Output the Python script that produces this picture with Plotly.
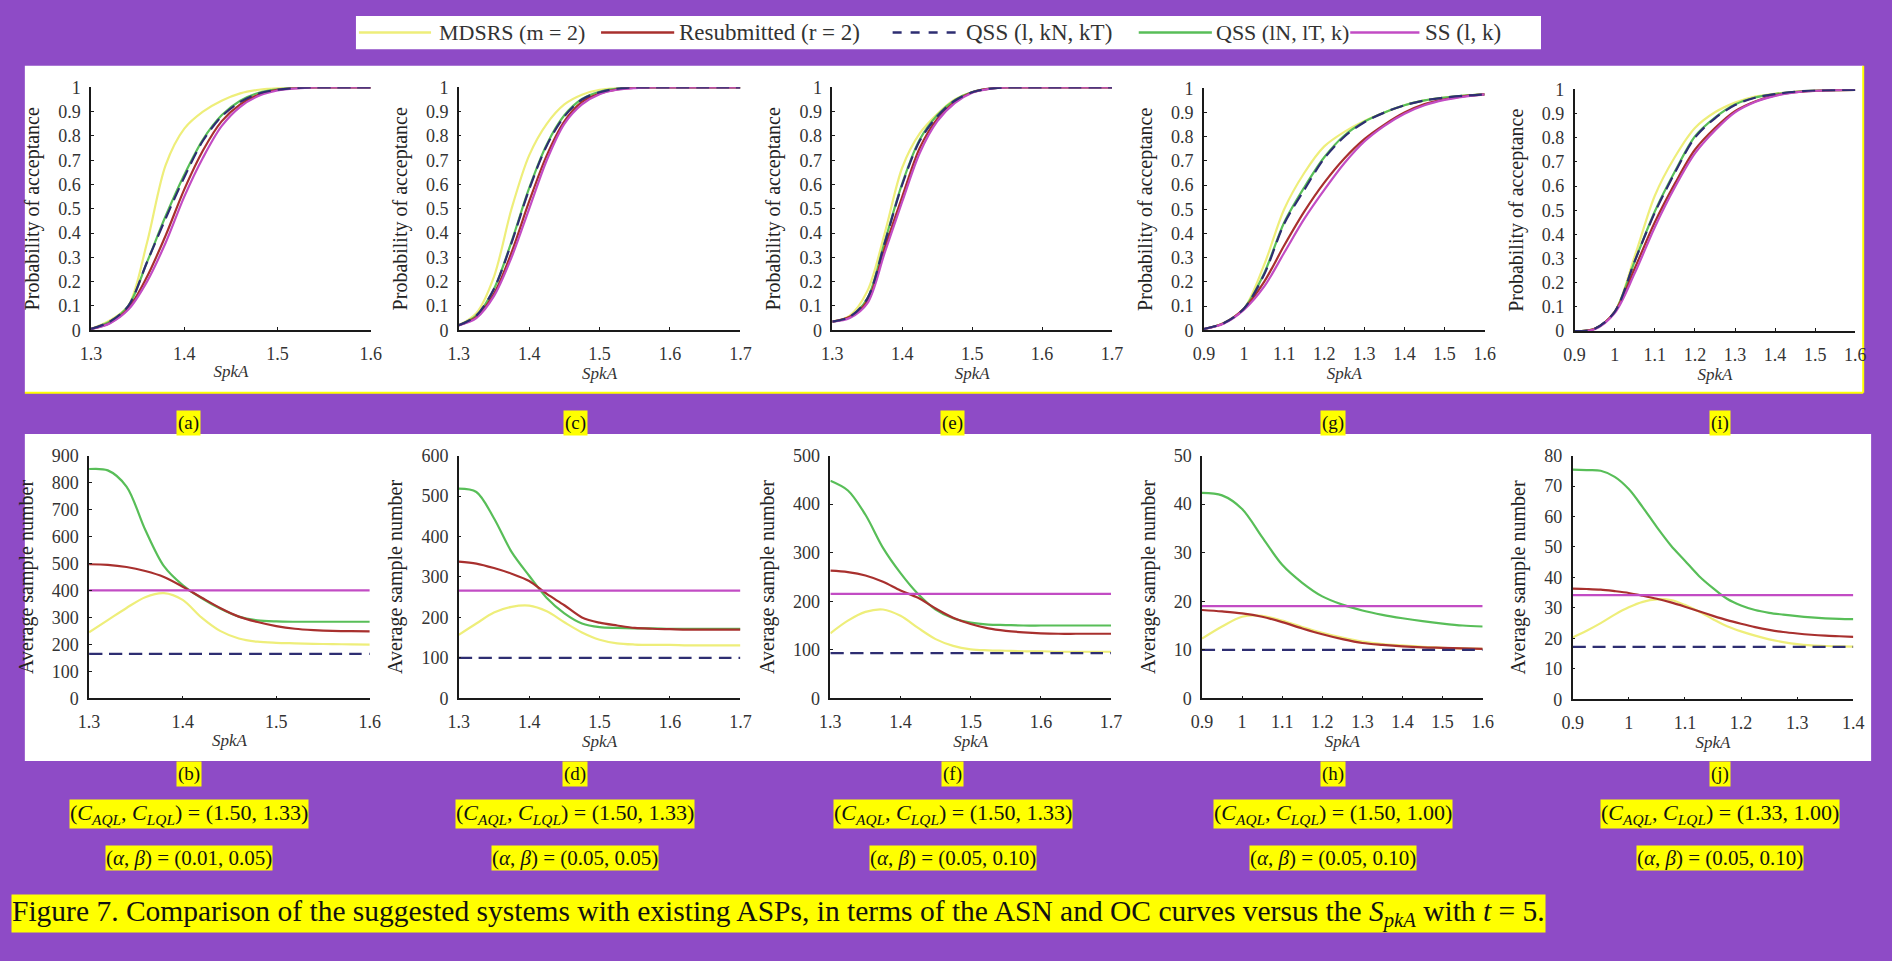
import plotly.graph_objects as go

W, H = 1892, 961

# ---------------- data ----------------
series_names = ["MDSRS (m = 2)", "Resubmitted (r = 2)", "QSS (l, kN, kT)", "QSS (lN, lT, k)", "SS (l, k)"]

# (a) OC
oc_a_x = [1.30, 1.32, 1.34, 1.36, 1.38, 1.40, 1.42, 1.44, 1.46, 1.48, 1.50, 1.52, 1.54, 1.56, 1.58, 1.60]
oc_a_mdsrs = [0.005, 0.04, 0.10, 0.36, 0.68, 0.83, 0.90, 0.945, 0.975, 0.99, 0.997, 1, 1, 1, 1, 1]
oc_a_resub = [0.005, 0.03, 0.09, 0.22, 0.39, 0.58, 0.74, 0.86, 0.93, 0.97, 0.99, 0.997, 1, 1, 1, 1]
oc_a_qkn = [0.005, 0.035, 0.10, 0.28, 0.46, 0.63, 0.78, 0.88, 0.94, 0.975, 0.99, 0.997, 1, 1, 1, 1]
oc_a_qln = [0.005, 0.035, 0.10, 0.28, 0.47, 0.64, 0.785, 0.885, 0.945, 0.978, 0.992, 0.998, 1, 1, 1, 1]
oc_a_ss = [0.005, 0.028, 0.085, 0.20, 0.36, 0.55, 0.71, 0.84, 0.92, 0.965, 0.987, 0.996, 1, 1, 1, 1]

# (c) OC
oc_c_x = [1.300, 1.325, 1.350, 1.375, 1.400, 1.425, 1.450, 1.475, 1.500, 1.525, 1.550, 1.575, 1.600, 1.625, 1.650, 1.675, 1.700]
oc_c_mdsrs = [0.02, 0.07, 0.22, 0.50, 0.72, 0.85, 0.93, 0.97, 0.99, 0.997, 1, 1, 1, 1, 1, 1, 1]
oc_c_resub = [0.02, 0.055, 0.15, 0.32, 0.53, 0.72, 0.86, 0.94, 0.975, 0.992, 0.998, 1, 1, 1, 1, 1, 1]
oc_c_qkn = [0.02, 0.06, 0.17, 0.36, 0.58, 0.76, 0.88, 0.95, 0.98, 0.995, 1, 1, 1, 1, 1, 1, 1]
oc_c_qln = [0.02, 0.06, 0.17, 0.365, 0.585, 0.765, 0.885, 0.952, 0.982, 0.995, 1, 1, 1, 1, 1, 1, 1]
oc_c_ss = [0.02, 0.05, 0.14, 0.30, 0.50, 0.70, 0.85, 0.93, 0.972, 0.99, 0.997, 1, 1, 1, 1, 1, 1]

# (e) OC
oc_e_x = [1.300, 1.325, 1.350, 1.375, 1.400, 1.425, 1.450, 1.475, 1.500, 1.525, 1.550, 1.575, 1.600, 1.625, 1.650, 1.675, 1.700]
oc_e_mdsrs = [0.035, 0.06, 0.16, 0.40, 0.67, 0.81, 0.89, 0.95, 0.98, 0.995, 1, 1, 1, 1, 1, 1, 1]
oc_e_resub = [0.035, 0.055, 0.12, 0.34, 0.55, 0.75, 0.87, 0.94, 0.98, 0.995, 1, 1, 1, 1, 1, 1, 1]
oc_e_qkn = [0.035, 0.055, 0.13, 0.36, 0.60, 0.78, 0.88, 0.945, 0.98, 0.995, 1, 1, 1, 1, 1, 1, 1]
oc_e_qln = [0.035, 0.055, 0.13, 0.365, 0.605, 0.785, 0.885, 0.947, 0.981, 0.995, 1, 1, 1, 1, 1, 1, 1]
oc_e_ss = [0.035, 0.05, 0.11, 0.32, 0.53, 0.73, 0.86, 0.935, 0.978, 0.994, 1, 1, 1, 1, 1, 1, 1]

# (g) OC
oc_g_x = [0.90, 0.95, 1.00, 1.05, 1.10, 1.15, 1.20, 1.25, 1.30, 1.35, 1.40, 1.45, 1.50, 1.55, 1.60]
oc_g_mdsrs = [0.005, 0.03, 0.09, 0.27, 0.50, 0.65, 0.76, 0.82, 0.865, 0.90, 0.93, 0.95, 0.962, 0.97, 0.975]
oc_g_resub = [0.005, 0.03, 0.09, 0.20, 0.35, 0.49, 0.61, 0.71, 0.79, 0.85, 0.90, 0.935, 0.955, 0.968, 0.975]
oc_g_qkn = [0.005, 0.03, 0.09, 0.23, 0.44, 0.58, 0.71, 0.80, 0.86, 0.90, 0.93, 0.95, 0.962, 0.97, 0.975]
oc_g_qln = [0.005, 0.03, 0.09, 0.235, 0.445, 0.59, 0.715, 0.805, 0.862, 0.90, 0.93, 0.95, 0.962, 0.97, 0.975]
oc_g_ss = [0.005, 0.028, 0.085, 0.18, 0.32, 0.46, 0.58, 0.69, 0.78, 0.845, 0.895, 0.93, 0.952, 0.966, 0.975]

# (i) OC
oc_i_x = [0.90, 0.95, 1.00, 1.05, 1.10, 1.15, 1.20, 1.25, 1.30, 1.35, 1.40, 1.45, 1.50, 1.55, 1.60]
oc_i_mdsrs = [0.0, 0.01, 0.08, 0.31, 0.56, 0.72, 0.84, 0.905, 0.945, 0.97, 0.982, 0.99, 0.995, 0.997, 0.998]
oc_i_resub = [0.0, 0.01, 0.08, 0.26, 0.45, 0.61, 0.75, 0.84, 0.91, 0.95, 0.975, 0.988, 0.994, 0.997, 0.998]
oc_i_qkn = [0.0, 0.01, 0.08, 0.29, 0.49, 0.655, 0.80, 0.88, 0.935, 0.965, 0.98, 0.99, 0.995, 0.997, 0.998]
oc_i_qln = [0.0, 0.01, 0.08, 0.29, 0.495, 0.66, 0.805, 0.883, 0.937, 0.966, 0.98, 0.99, 0.995, 0.997, 0.998]
oc_i_ss = [0.0, 0.008, 0.075, 0.24, 0.43, 0.595, 0.735, 0.83, 0.905, 0.948, 0.973, 0.987, 0.994, 0.997, 0.998]

# (b) ASN
asn_b_x = [1.30, 1.32, 1.34, 1.36, 1.38, 1.40, 1.42, 1.44, 1.46, 1.48, 1.50, 1.52, 1.54, 1.56, 1.58, 1.60]
asn_b_mdsrs = [245, 290, 335, 375, 390, 365, 300, 250, 222, 210, 206, 204, 202, 201, 200, 199]
asn_b_resub = [497, 495, 487, 472, 450, 414, 374, 335, 303, 283, 268, 258, 253, 250, 249, 248]
asn_b_qkn = [165, 165, 165, 165, 165, 165, 165, 165, 165, 165, 165, 165, 165, 165, 165, 165]
asn_b_qln = [850, 845, 785, 625, 490, 420, 372, 333, 303, 289, 285, 284, 284, 284, 284, 284]
asn_b_ss = [400, 400, 400, 400, 400, 400, 400, 400, 400, 400, 400, 400, 400, 400, 400, 400]

# (d) ASN
asn_d_x = [1.300, 1.325, 1.350, 1.375, 1.400, 1.425, 1.450, 1.475, 1.500, 1.525, 1.550, 1.575, 1.600, 1.625, 1.650, 1.675, 1.700]
asn_d_mdsrs = [157, 185, 212, 226, 229, 215, 188, 163, 145, 136, 133, 132, 132, 131, 131, 131, 131]
asn_d_resub = [338, 333, 322, 308, 290, 258, 230, 200, 187, 180, 174, 172, 171, 170, 170, 170, 170]
asn_d_qkn = [100, 100, 100, 100, 100, 100, 100, 100, 100, 100, 100, 100, 100, 100, 100, 100, 100]
asn_d_qln = [518, 510, 445, 362, 303, 248, 210, 185, 176, 174, 173, 173, 172, 172, 172, 172, 172]
asn_d_ss = [266, 266, 266, 266, 266, 266, 266, 266, 266, 266, 266, 266, 266, 266, 266, 266, 266]

# (f) ASN
asn_f_x = [1.300, 1.325, 1.350, 1.375, 1.400, 1.425, 1.450, 1.475, 1.500, 1.525, 1.550, 1.575, 1.600, 1.625, 1.650, 1.675, 1.700]
asn_f_mdsrs = [134, 160, 178, 183, 170, 145, 122, 108, 101, 99, 98, 97, 97, 96, 96, 96, 96]
asn_f_resub = [263, 260, 253, 240, 222, 207, 185, 166, 153, 144, 139, 136, 134, 133, 133, 133, 133]
asn_f_qkn = [93, 93, 93, 93, 93, 93, 93, 93, 93, 93, 93, 93, 93, 93, 93, 93, 93]
asn_f_qln = [448, 428, 378, 310, 258, 215, 183, 165, 156, 152, 151, 150, 150, 150, 150, 150, 150]
asn_f_ss = [215, 215, 215, 215, 215, 215, 215, 215, 215, 215, 215, 215, 215, 215, 215, 215, 215]

# (h) ASN
asn_h_x = [0.90, 0.95, 1.00, 1.05, 1.10, 1.15, 1.20, 1.25, 1.30, 1.35, 1.40, 1.45, 1.50, 1.55, 1.60]
asn_h_mdsrs = [12.3, 14.8, 16.8, 17.0, 16.0, 14.7, 13.5, 12.5, 11.7, 11.2, 10.9, 10.6, 10.4, 10.3, 10.2]
asn_h_resub = [18.2, 17.9, 17.5, 16.8, 15.7, 14.4, 13.2, 12.2, 11.4, 11.0, 10.7, 10.5, 10.4, 10.3, 10.2]
asn_h_qkn = [10, 10, 10, 10, 10, 10, 10, 10, 10, 10, 10, 10, 10, 10, 10]
asn_h_qln = [42.3, 41.8, 39.0, 33.2, 27.5, 23.8, 21.0, 19.3, 18.1, 17.2, 16.5, 15.9, 15.4, 15.0, 14.8]
asn_h_ss = [19, 19, 19, 19, 19, 19, 19, 19, 19, 19, 19, 19, 19, 19, 19]

# (j) ASN
asn_j_x = [0.900, 0.925, 0.950, 0.975, 1.000, 1.025, 1.050, 1.075, 1.100, 1.125, 1.150,
           1.175, 1.200, 1.225, 1.250, 1.275, 1.300, 1.325, 1.350, 1.375, 1.400]
asn_j_mdsrs = [20.3, 22.5, 25.0, 27.8, 30.2, 32.0, 32.8, 32.6, 31.0, 28.8, 26.3,
               24.0, 22.3, 20.9, 19.7, 18.8, 18.1, 17.7, 17.5, 17.4, 17.3]
asn_j_resub = [36.3, 36.2, 36.0, 35.5, 34.9, 34.0, 33.0, 31.8, 30.4, 28.9, 27.4,
               26.0, 24.8, 23.7, 22.8, 22.1, 21.6, 21.2, 20.9, 20.7, 20.5]
asn_j_qkn = [17.2] * 21
asn_j_qln = [75.4, 75.2, 75.0, 73.0, 69.0, 63.0, 56.5, 50.5, 45.5, 40.5, 36.5,
             33.0, 30.8, 29.3, 28.4, 27.8, 27.3, 26.9, 26.6, 26.4, 26.3]
asn_j_ss = [34.2] * 21

panel_labels = ["(a)", "(c)", "(e)", "(g)", "(i)", "(b)", "(d)", "(f)", "(h)", "(j)"]
caption_cql = ["(1.50, 1.33)", "(1.50, 1.33)", "(1.50, 1.33)", "(1.50, 1.00)", "(1.33, 1.00)"]
caption_ab = ["(0.01, 0.05)", "(0.05, 0.05)", "(0.05, 0.10)", "(0.05, 0.10)", "(0.05, 0.10)"]

# ---------------- styling ----------------
BG = "#8E4BC6"
YEL = "#FFFF00"
SERIF = "Liberation Serif"
colors = ["#EEEE7A", "#A8302E", "#2E2E72", "#58BE58", "#C24CC4"]
dashes = ["solid", "solid", "13px,7px", "solid", "solid"]
order = [0, 3, 1, 4, 2]  # drawing order

panels = [
    dict(x=oc_a_x, ys=[oc_a_mdsrs, oc_a_resub, oc_a_qkn, oc_a_qln, oc_a_ss], xr=[1.3, 1.6], yr=[0, 1], yd=0.1, box=(81, 364, 79, 327), yt="Probability of acceptance"),
    dict(x=oc_c_x, ys=[oc_c_mdsrs, oc_c_resub, oc_c_qkn, oc_c_qln, oc_c_ss], xr=[1.3, 1.7], yr=[0, 1], yd=0.1, box=(453, 738, 79, 327), yt="Probability of acceptance"),
    dict(x=oc_e_x, ys=[oc_e_mdsrs, oc_e_resub, oc_e_qkn, oc_e_qln, oc_e_ss], xr=[1.3, 1.7], yr=[0, 1], yd=0.1, box=(831, 1114, 79, 327), yt="Probability of acceptance"),
    dict(x=oc_g_x, ys=[oc_g_mdsrs, oc_g_resub, oc_g_qkn, oc_g_qln, oc_g_ss], xr=[0.9, 1.6], yr=[0, 1], yd=0.1, box=(1207, 1491, 80, 327), yt="Probability of acceptance"),
    dict(x=oc_i_x, ys=[oc_i_mdsrs, oc_i_resub, oc_i_qkn, oc_i_qln, oc_i_ss], xr=[0.9, 1.6], yr=[0, 1], yd=0.1, box=(1582, 1866, 81, 328), yt="Probability of acceptance"),
    dict(x=asn_b_x, ys=[asn_b_mdsrs, asn_b_resub, asn_b_qkn, asn_b_qln, asn_b_ss], xr=[1.3, 1.6], yr=[0, 900], yd=100, box=(79, 363, 455, 703), yt="Average sample number"),
    dict(x=asn_d_x, ys=[asn_d_mdsrs, asn_d_resub, asn_d_qkn, asn_d_qln, asn_d_ss], xr=[1.3, 1.7], yr=[0, 600], yd=100, box=(453, 738, 455, 703), yt="Average sample number"),
    dict(x=asn_f_x, ys=[asn_f_mdsrs, asn_f_resub, asn_f_qkn, asn_f_qln, asn_f_ss], xr=[1.3, 1.7], yr=[0, 500], yd=100, box=(829, 1113, 455, 703), yt="Average sample number"),
    dict(x=asn_h_x, ys=[asn_h_mdsrs, asn_h_resub, asn_h_qkn, asn_h_qln, asn_h_ss], xr=[0.9, 1.6], yr=[0, 50], yd=10, box=(1205, 1489, 455, 703), yt="Average sample number"),
    dict(x=asn_j_x, ys=[asn_j_mdsrs, asn_j_resub, asn_j_qkn, asn_j_qln, asn_j_ss], xr=[0.9, 1.4], yr=[0, 80], yd=10, box=(1580, 1864, 455, 704), yt="Average sample number"),
]

def px_x(v):
    return v / W

def px_y(v):
    return 1 - v / H

fig = go.Figure()
shapes = []
annotations = []

# white strips behind panel rows
shapes.append(dict(type="rect", xref="paper", yref="paper", x0=px_x(14), x1=px_x(1874), y0=px_y(390), y1=px_y(57),
                   fillcolor="white", line=dict(width=0), layer="below"))
shapes.append(dict(type="line", xref="paper", yref="paper", x0=px_x(14), x1=px_x(1874), y0=px_y(391), y1=px_y(391),
                   line=dict(color=YEL, width=2), layer="below"))
shapes.append(dict(type="line", xref="paper", yref="paper", x0=px_x(1874), x1=px_x(1874), y0=px_y(391), y1=px_y(57),
                   line=dict(color=YEL, width=2), layer="below"))
shapes.append(dict(type="rect", xref="paper", yref="paper", x0=px_x(14), x1=px_x(1882), y0=px_y(767), y1=px_y(433),
                   fillcolor="white", line=dict(width=0), layer="below"))

for i, p in enumerate(panels, start=1):
    x0, x1, y0, y1 = p["box"]
    xa = "x" if i == 1 else f"x{i}"
    ya = "y" if i == 1 else f"y{i}"
    for k in order:
        fig.add_trace(go.Scatter(
            x=p["x"], y=p["ys"][k], mode="lines", name=series_names[k], showlegend=False,
            line=dict(color=colors[k], width=2.2, dash=dashes[k], shape="spline", smoothing=0.9),
            xaxis=xa, yaxis=ya, hoverinfo="skip"))
    axis_common = dict(showline=True, linecolor="#1a1a1a", linewidth=1.5, showgrid=False, zeroline=False,
                       ticks="inside", ticklen=3, tickcolor="#1a1a1a",
                       tickfont=dict(family=SERIF, size=18, color="#333333"))
    fig.layout[f"xaxis{i}" if i > 1 else "xaxis"] = dict(
        domain=[px_x(x0), px_x(x1)], range=p["xr"], dtick=0.1, tick0=0.9, anchor=ya,
        ticklabelstandoff=6,
        title=dict(text="<i>SpkA</i>", font=dict(family=SERIF, size=17, color="#333333"), standoff=3),
        **axis_common)
    fig.layout[f"yaxis{i}" if i > 1 else "yaxis"] = dict(
        domain=[px_y(y1), px_y(y0)], range=p["yr"], dtick=p["yd"], anchor=xa,
        ticklabelstandoff=5,
        title=dict(text=p["yt"], font=dict(family=SERIF, size=20, color="#222222"), standoff=13),
        **axis_common)

# legend (drawn as a strip of line samples and labels)
shapes.append(dict(type="rect", xref="paper", yref="paper", x0=px_x(349), x1=px_x(1548), y0=px_y(40), y1=px_y(6),
                   fillcolor="white", line=dict(width=0)))
leg_line = [(352, 425), (597, 671), (892, 963), (1141, 1215), (1355, 1425)]
leg_text = [431, 674, 964, 1217, 1429]
leg_size = [22, 23, 23, 22, 23]
for k in range(5):
    a, b = leg_line[k]
    shapes.append(dict(type="line", xref="paper", yref="paper", x0=px_x(a), x1=px_x(b), y0=px_y(23), y1=px_y(23),
                       line=dict(color=colors[k], width=2.5, dash="dash" if k == 2 else "solid")))
    annotations.append(dict(xref="paper", yref="paper", x=px_x(leg_text[k]), y=px_y(23), xanchor="left", yanchor="middle",
                            text=series_names[k], showarrow=False,
                            font=dict(family=SERIF, size=leg_size[k], color="#333333")))

# panel letters, parameter captions
col_centers = [180, 571, 953, 1338, 1729]
for j, lab in enumerate(panel_labels):
    cx = col_centers[j % 5]
    cy = 422 if j < 5 else 780
    annotations.append(dict(xref="paper", yref="paper", x=px_x(cx), y=px_y(cy), xanchor="center", yanchor="middle",
                            text=lab, showarrow=False, bgcolor=YEL, borderpad=1,
                            font=dict(family=SERIF, size=19, color="#111111")))
for j in range(5):
    cx = col_centers[j]
    annotations.append(dict(xref="paper", yref="paper", x=px_x(cx), y=px_y(821), xanchor="center", yanchor="middle",
                            text=f"(<i>C</i><sub><i>AQL</i></sub>, <i>C</i><sub><i>LQL</i></sub>) = {caption_cql[j]}",
                            showarrow=False, bgcolor=YEL, borderpad=0,
                            font=dict(family=SERIF, size=22, color="#111111")))
    annotations.append(dict(xref="paper", yref="paper", x=px_x(cx), y=px_y(866), xanchor="center", yanchor="middle",
                            text=f"(<i>α</i>, <i>β</i>) = {caption_ab[j]}",
                            showarrow=False, bgcolor=YEL, borderpad=0,
                            font=dict(family=SERIF, size=21, color="#111111")))

annotations.append(dict(xref="paper", yref="paper", x=0, y=px_y(923), xanchor="left", yanchor="middle",
                        text="Figure 7. Comparison of the suggested systems with existing ASPs, in terms of the ASN and OC curves versus the <i>S</i><sub><i>pkA</i></sub> with <i>t</i> = 5.",
                        showarrow=False, bgcolor=YEL, borderpad=0,
                        font=dict(family=SERIF, size=29.5, color="#111111")))

fig.update_layout(width=W, height=H, margin=dict(l=0, r=0, t=0, b=0),
                  paper_bgcolor=BG, plot_bgcolor="rgba(0,0,0,0)",
                  shapes=shapes, annotations=annotations, showlegend=False)

fig.write_html(
    "out.html",
    config={"displayModeBar": False},
    post_script=("document.body.style.margin='0';document.body.style.overflow='hidden';"
                 "document.body.style.background='" + BG + "';"),
)
